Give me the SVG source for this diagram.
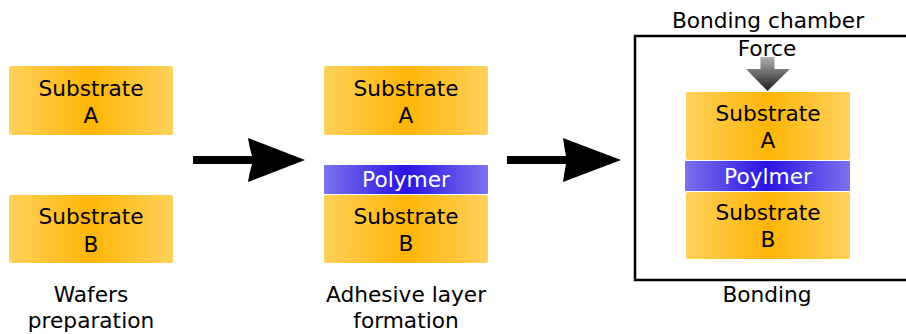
<svg xmlns="http://www.w3.org/2000/svg" width="906" height="334" viewBox="0 0 906 334">
<defs>
<linearGradient id="sub" x1="0" y1="0" x2="1" y2="0">
<stop offset="0" stop-color="#ffd15c"/>
<stop offset="0.5" stop-color="#ffb507"/>
<stop offset="1" stop-color="#ffd15c"/>
</linearGradient>
<linearGradient id="poly" x1="0" y1="0" x2="1" y2="0">
<stop offset="0" stop-color="#7b72ee"/>
<stop offset="0.5" stop-color="#2a14e2"/>
<stop offset="1" stop-color="#7b72ee"/>
</linearGradient>
<linearGradient id="force" x1="0" y1="0" x2="0" y2="1">
<stop offset="0" stop-color="#b0b0b0"/>
<stop offset="1" stop-color="#1e1e1e"/>
</linearGradient>
</defs>
<style>
text{font-family:"DejaVu Sans","Verdana",sans-serif;font-size:21.7px;text-anchor:middle;fill:#000}
.sub{fill:url(#sub)}
.poly{fill:url(#poly)}
.pt{fill:#fff}
.conn{fill:#000}
</style>
<g id="wafers-a">
<rect class="sub" x="9" y="66" width="164" height="69" rx="2"/>
<text x="91" y="96">Substrate</text>
<text x="91" y="123">A</text>
</g>
<g id="wafers-b">
<rect class="sub" x="9" y="195" width="164" height="68" rx="2"/>
<text x="91" y="224">Substrate</text>
<text x="91" y="252">B</text>
</g>
<g id="label-wafers">
<text x="91" y="302">Wafers</text>
<text x="91" y="328">preparation</text>
</g>
<g id="adh-a">
<rect class="sub" x="324" y="66" width="164" height="69" rx="2"/>
<text x="406" y="96">Substrate</text>
<text x="406" y="123">A</text>
</g>
<g id="adh-poly">
<rect class="poly" x="324" y="165" width="164" height="29" rx="1"/>
<text class="pt" x="406" y="187">Polymer</text>
</g>
<g id="adh-b">
<rect class="sub" x="324" y="195" width="164" height="68" rx="2"/>
<text x="406" y="224">Substrate</text>
<text x="406" y="251">B</text>
</g>
<g id="label-adhesive">
<text x="406" y="302">Adhesive layer</text>
<text x="406" y="328">formation</text>
</g>
<g id="chamber">
<rect x="635" y="36" width="280" height="244" fill="none" stroke="#000" stroke-width="2.5"/>
<text x="768" y="28">Bonding chamber</text>
</g>
<g id="force">
<text x="767" y="56">Force</text>
<path d="M760.5 57 H774.5 V69 H790 L767.5 91 L746 69 H760.5 Z" fill="url(#force)"/>
</g>
<g id="bond-a">
<rect class="sub" x="686" y="92" width="164" height="68" rx="2"/>
<text x="768" y="121">Substrate</text>
<text x="768" y="148">A</text>
</g>
<g id="bond-poly">
<rect class="poly" x="685" y="161" width="165" height="30" rx="1"/>
<text class="pt" x="768" y="184">Poylmer</text>
</g>
<g id="bond-b">
<rect class="sub" x="686" y="192" width="164" height="67" rx="2"/>
<text x="768" y="220">Substrate</text>
<text x="768" y="247">B</text>
</g>
<g id="label-bonding">
<text x="767" y="302">Bonding</text>
</g>
<g id="connectors">
<path class="conn" d="M193 156 H252 Q249 146 248 138 L305 160 L248 182 Q249 174 252 164 H193 Z"/>
<path class="conn" d="M507 156 H566 Q564 146 563 138 L621 160 L563 182 Q564 174 566 164 H507 Z"/>
</g>
</svg>
